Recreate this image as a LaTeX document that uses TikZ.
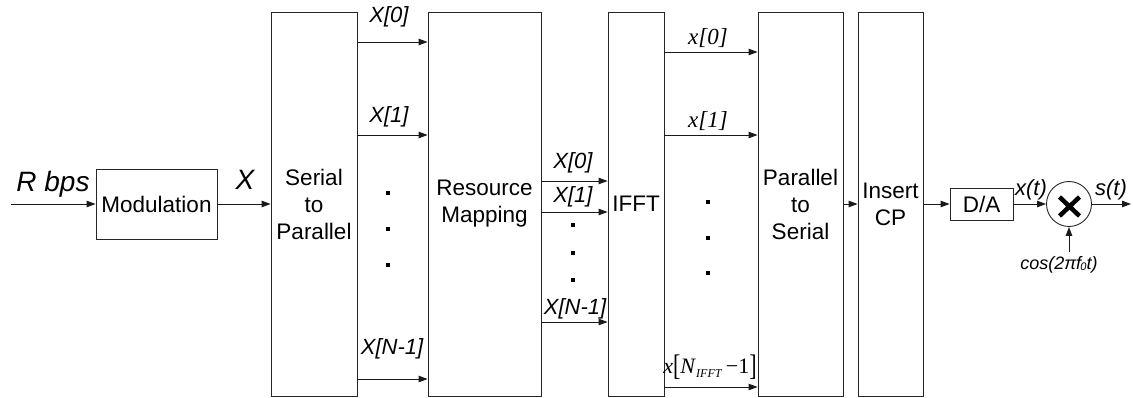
\documentclass[tikz,border=0pt]{standalone}
\usepackage{fontspec}
\setmainfont{Liberation Sans}
\newfontfamily\tms{Liberation Serif}
\usetikzlibrary{arrows.meta}
\tikzset{
  x=1pt, y=-1pt,
  blk/.style={draw=black!85, line width=0.9pt, inner sep=0pt, align=center,
    font=\fontsize{22.5}{27}\selectfont},
  arr/.style={draw=black!90, line width=0.9pt, -{Triangle[length=9pt,width=6.5pt]}},
  lbl/.style={inner sep=0pt, font=\fontsize{22}{26}\selectfont\itshape},
  tlbl/.style={inner sep=0pt, font=\fontsize{23}{26}\selectfont\tms\itshape},
  bigl/.style={inner sep=0pt, font=\fontsize{28}{30}\selectfont\itshape},
  dotmark/.style={fill=black, inner sep=0pt, minimum size=4pt},
}
\begin{document}
\begin{tikzpicture}
\useasboundingbox (0,0) rectangle (1133,398);

% processing blocks
\node[blk, minimum width=121pt, minimum height=70pt] (mod) at (156.5,204) {Modulation};
\node[blk, minimum width=86pt, minimum height=384pt] (sp) at (314,204) {Serial\\to\\Parallel};
\node[blk, minimum width=113pt, minimum height=384pt] (rm) at (484.5,204) {Resource\\Mapping};
\node[blk, minimum width=56pt, minimum height=384pt] (ifft) at (636,204) {IFFT};
\node[blk, minimum width=85pt, minimum height=384pt] (ps) at (800.5,204) {Parallel\\to\\Serial};
\node[blk, minimum width=65pt, minimum height=384pt] (cp) at (890.5,204) {Insert\\CP};
\node[blk, minimum width=63pt, minimum height=32pt] (da) at (981.5,204) {D/A};
\node[draw=black!85, line width=0.9pt, circle, minimum size=45pt, inner sep=0pt] (mult) at (1069,204) {};
\draw[line width=4.5pt] (1059.5,197) -- (1079.5,216) (1079.5,197) -- (1059.5,216);

% free ends
\coordinate (src) at (11,204);
\coordinate (sink) at (1131,204);
\coordinate (osc) at (1069,252);

% serial chain
\draw[arr] (src) -- (mod.west);
\draw[arr] (mod.east) -- (sp.west);
\draw[arr] (ps.east) -- (cp.west);
\draw[arr] (cp.east) -- (da.west);
\draw[arr] (da.east) -- (mult.west);
\draw[arr] (mult.east) -- (sink);
\draw[arr] (osc) -- (mult.south);

\node[bigl] (rbps) at (53,184) {R bps};
\node[bigl] (xsym) at (245,180) {X};
\node[lbl] (xt) at (1031,190) {x(t)};
\node[lbl] (st) at (1111,190) {s(t)};
\node[inner sep=0pt, font=\fontsize{18}{20}\selectfont\itshape] (carrier) at (1059,265) {cos(2π\kern-0.5pt f\kern-0.5pt\raisebox{-1pt}{\fontsize{11}{12}\selectfont 0}t)};

% serial to parallel outputs
\draw[arr] (sp.east |- 0,42) -- (rm.west |- 0,42);
\draw[arr] (sp.east |- 0,135) -- (rm.west |- 0,135);
\draw[arr] (sp.east |- 0,379) -- (rm.west |- 0,379);
\node[lbl] (a0) at (389,17) {X[0]};
\node[lbl] (a1) at (389,117) {X[1]};
\node[lbl] (an) at (392,349) {X[N-1]};
\node[dotmark] (d1) at (388,193) {};
\node[dotmark] (d2) at (388,229) {};
\node[dotmark] (d3) at (388,265) {};

% resource mapping outputs
\draw[arr] (rm.east |- 0,181) -- (ifft.west |- 0,181);
\draw[arr] (rm.east |- 0,212) -- (ifft.west |- 0,212);
\draw[arr] (rm.east |- 0,322) -- (ifft.west |- 0,322);
\node[lbl] (b0) at (573,163) {X[0]};
\node[lbl] (b1) at (573,197) {X[1]};
\node[lbl] (bn) at (575,309) {X[N-1]};
\node[dotmark] (e1) at (573,225) {};
\node[dotmark] (e2) at (573,253) {};
\node[dotmark] (e3) at (573,280) {};

% IFFT outputs
\draw[arr] (ifft.east |- 0,52) -- (ps.west |- 0,52);
\draw[arr] (ifft.east |- 0,135) -- (ps.west |- 0,135);
\draw[arr] (ifft.east |- 0,387) -- (ps.west |- 0,387);
\node[tlbl] (c0) at (708,38) {x[0]};
\node[tlbl] (c1) at (708,121) {x[1]};
\node[inner sep=0pt, font=\fontsize{22}{26}\selectfont\tms] (cn) at (710,367)
  {\textit{x}\raisebox{-2pt}{\scalebox{1}[1.35]{[}}\textit{N}\raisebox{-4pt}{\fontsize{12}{13}\selectfont\textit{IFFT}}\,−1\raisebox{-2pt}{\scalebox{1}[1.35]{]}}};
\node[dotmark] (f1) at (708,202) {};
\node[dotmark] (f2) at (708,238) {};
\node[dotmark] (f3) at (708,273) {};
\end{tikzpicture}
\end{document}
